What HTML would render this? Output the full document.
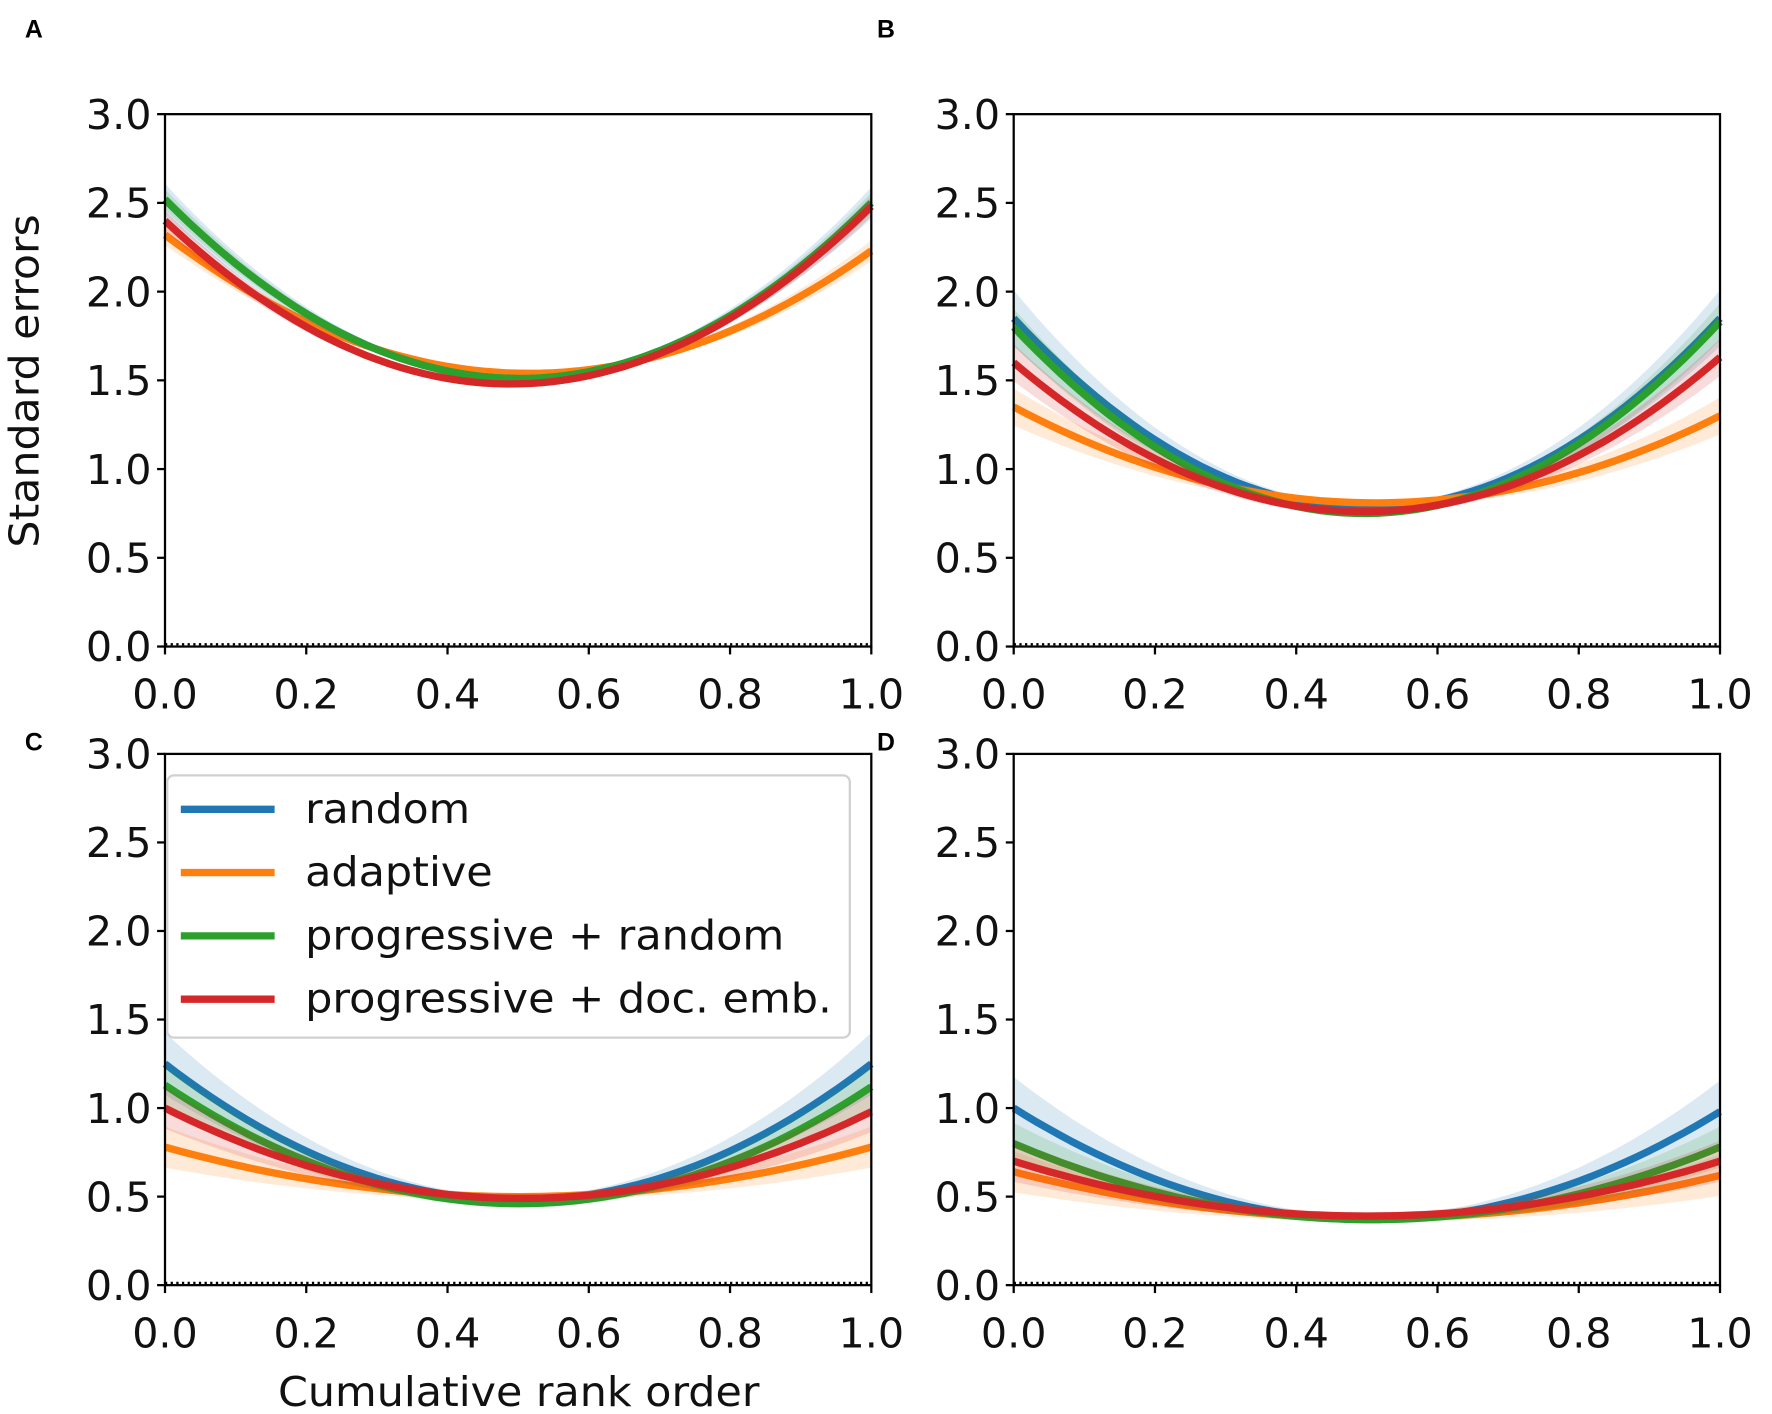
<!DOCTYPE html>
<html><head><meta charset="utf-8"><style>html,body{margin:0;padding:0;background:#fff}svg{display:block}</style></head>
<body>
<svg id="s" xmlns="http://www.w3.org/2000/svg" width="1772" height="1414" viewBox="0 0 1568 1251" preserveAspectRatio="none" font-family="DejaVu Sans, Liberation Sans, sans-serif">
<rect width="1568" height="1251" fill="#fff"/>
<g id="g"></g>
<text x="30" y="33" font-size="22" font-weight="bold" font-family="Liberation Sans, sans-serif" text-anchor="middle">A</text>
<text x="784" y="33" font-size="22" font-weight="bold" font-family="Liberation Sans, sans-serif" text-anchor="middle">B</text>
<text x="30" y="664" font-size="22" font-weight="bold" font-family="Liberation Sans, sans-serif" text-anchor="middle">C</text>
<text x="784" y="664" font-size="22" font-weight="bold" font-family="Liberation Sans, sans-serif" text-anchor="middle">D</text>
<text transform="translate(34,337) rotate(-90)" font-size="36" text-anchor="middle" fill="#111" textLength="295" lengthAdjust="spacingAndGlyphs">Standard errors</text>
<text x="459" y="1244" font-size="36" text-anchor="middle" fill="#111" textLength="426" lengthAdjust="spacingAndGlyphs">Cumulative rank order</text>
</svg>
<script>
const g=document.getElementById('g');let h='';
const C={b:'#1f77b4',o:'#ff7f0e',gr:'#2ca02c',r:'#d62728'};
const panels=[
 {x0:146,x1:771,y0:101,y1:572,bw:0.5,s:[['o',2.32,1.54,2.23],['b',2.52,1.51,2.50],['gr',2.52,1.51,2.50],['r',2.40,1.48,2.48]]},
 {x0:897,x1:1522,y0:101,y1:572,bw:0.9,s:[['b',1.85,0.78,1.85],['o',1.35,0.81,1.30],['gr',1.80,0.75,1.83],['r',1.60,0.76,1.63]]},
 {x0:146,x1:771,y0:667,y1:1137,bw:1,s:[['b',1.25,0.48,1.25],['o',0.78,0.50,0.78],['gr',1.13,0.46,1.12],['r',1.00,0.49,0.98]]},
 {x0:897,x1:1522,y0:667,y1:1137,bw:1,s:[['b',1.0,0.37,0.98],['o',0.64,0.38,0.62],['gr',0.80,0.37,0.78],['r',0.70,0.39,0.70]]}];
panels.forEach((p,pi)=>{
 const X=t=>p.x0+t*(p.x1-p.x0), Y=v=>p.y1-v/3*(p.y1-p.y0);
 p.s.forEach(([c,L,M,R])=>{
  const f=t=>{const a=L,b=-3*L+4*M-R,cc=2*L-4*M+2*R;return a+b*t+cc*t*t;};
  let up=[],dn=[],ln=[];
  for(let i=0;i<=60;i++){const t=i/60,v=f(t),w=(0.02+0.12*Math.pow(Math.abs(t-0.5)*2,2)*(c=='b'?1.3:0.8))*p.bw;
   up.push(X(t).toFixed(1)+','+Y(v+w).toFixed(1));dn.unshift(X(t).toFixed(1)+','+Y(v-w).toFixed(1));ln.push(X(t).toFixed(1)+','+Y(v).toFixed(1));}
  h+=`<polygon points="${up.join(' ')} ${dn.join(' ')}" fill="${C[c]}" opacity="0.16"/>`;
  h+=`<polyline points="${ln.join(' ')}" fill="none" stroke="${C[c]}" stroke-width="6.5"/>`;
 });
 h+=`<line x1="${p.x0}" x2="${p.x1}" y1="${p.y1-2}" y2="${p.y1-2}" stroke="#000" stroke-width="2" stroke-dasharray="2,3"/>`;
 h+=`<rect x="${p.x0}" y="${p.y0}" width="${p.x1-p.x0}" height="${p.y1-p.y0}" fill="none" stroke="#000" stroke-width="2"/>`;
 for(let i=0;i<=6;i++){const v=i*0.5,y=Y(v);h+=`<line x1="${p.x0-7}" x2="${p.x0}" y1="${y}" y2="${y}" stroke="#000" stroke-width="2"/><text x="${p.x0-12}" y="${y+13}" font-size="36" text-anchor="end" fill="#111" textLength="58" lengthAdjust="spacingAndGlyphs">${v.toFixed(1)}</text>`;}
 for(let i=0;i<=5;i++){const t=i*0.2,x=X(t);h+=`<line x1="${x}" x2="${x}" y1="${p.y1}" y2="${p.y1+7}" stroke="#000" stroke-width="2"/><text x="${x}" y="${p.y1+55}" font-size="36" text-anchor="middle" fill="#111" textLength="58" lengthAdjust="spacingAndGlyphs">${t.toFixed(1)}</text>`;}
});
h+=`<rect x="148" y="686" width="604" height="232" rx="6" fill="#fff" fill-opacity="0.85" stroke="#d0d0d0" stroke-width="2"/>`;
[['b','random',716,146],['o','adaptive',772,166],['gr','progressive + random',828,424],['r','progressive + doc. emb.',884,466]].forEach(([c,t,y,L])=>{
 h+=`<line x1="160" x2="243" y1="${y}" y2="${y}" stroke="${C[c]}" stroke-width="6.5"/><text x="270" y="${y+12}" font-size="36" fill="#111" textLength="${L}" lengthAdjust="spacingAndGlyphs">${t}</text>`;});
g.innerHTML=h;
</script>
</body></html>
